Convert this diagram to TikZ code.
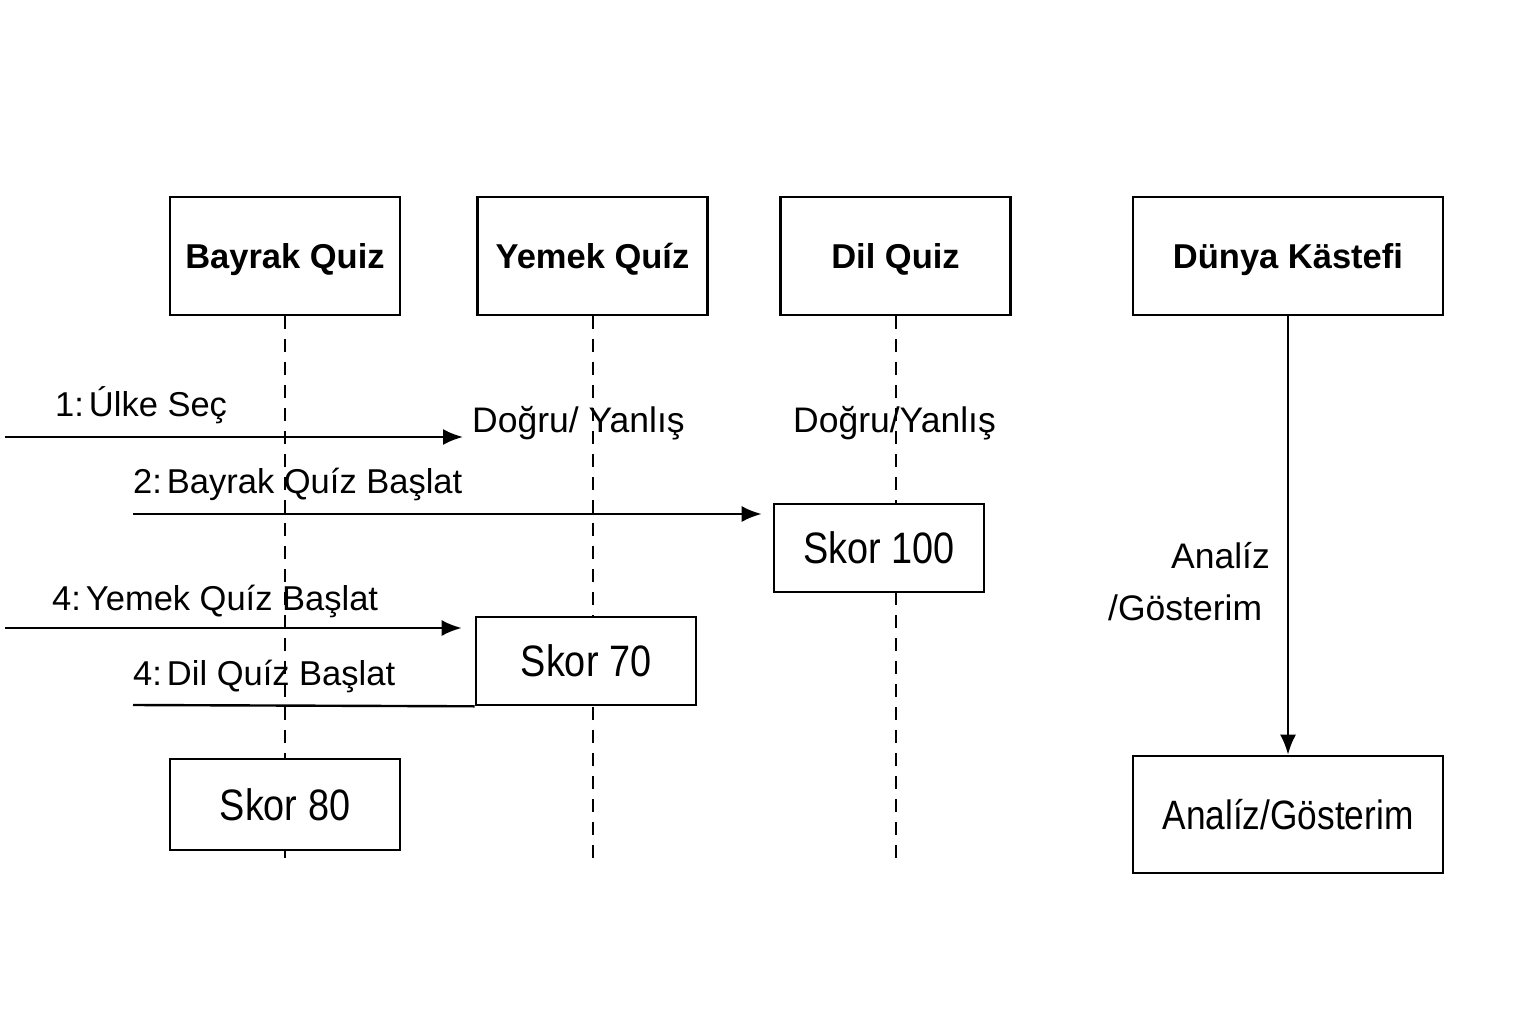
\documentclass[tikz,border=0pt]{standalone}
\usepackage{fontspec}
\setmainfont{Liberation Sans}
\newfontfamily\skorfont[FakeStretch=0.86]{Liberation Sans}
\usetikzlibrary{arrows.meta}
\newcommand{\cgap}{\hspace{5pt}}
\begin{document}
\begin{tikzpicture}[x=1pt,y=-1pt,
  hdr/.style={draw, line width=2.6pt, fill=white, minimum width=230pt, minimum height=118pt,
    inner sep=0pt, text height=25pt, text depth=0pt, font=\fontsize{34.5}{40}\selectfont\bfseries},
  skorbox/.style={draw, fill=white, line width=2.6pt, inner sep=0pt, text height=31.5pt, text depth=0pt,
    font=\skorfont\fontsize{44}{50}\selectfont},
  lbl/.style={inner sep=0pt, anchor=base west, font=\fontsize{34.5}{40}\selectfont},
  lblr/.style={inner sep=0pt, anchor=base east, font=\fontsize{35.5}{40}\selectfont},
  life/.style={line width=2pt, dash pattern=on 13pt off 10pt},
  msg/.style={line width=2.4pt, -{Latex[length=20pt,width=16pt]}},
  plain/.style={line width=2.4pt}]
\useasboundingbox (0,0) rectangle (1536,1024);

% lifeline end points
\coordinate (e1) at (285,862);
\coordinate (e2) at (592.5,862);
\coordinate (e3) at (895.5,862);

% headers
\node[hdr] (bq) at (285,256) {Bayrak Quiz};
\node[hdr] (yq) at (592.5,256) {Yemek Quíz};
\node[hdr] (dq) at (895.5,256) {Dil Quiz};
\node[hdr, minimum width=310pt] (dk) at (1288,256) {Dünya Kästefi};

% lifelines
\draw[life] (bq.south) -- (e1);
\draw[life] (yq.south) -- (e2);
\draw[life] (dq.south) -- (e3);

% score boxes
\node[skorbox, minimum width=210pt, minimum height=88pt] (s100) at (879,548) {Skor 100};
\node[skorbox, minimum width=220pt, minimum height=88pt] (s70) at (586,661) {Skor 70};
\node[skorbox, minimum width=230pt, minimum height=91pt] (s80) at (285,804.5) {Skor 80};
\node[skorbox, minimum width=310pt, minimum height=117pt, text height=29pt,
      font=\skorfont\fontsize{41}{46}\selectfont] (an) at (1288,814.5) {Analíz/Gösterim};

% labels
\node[lbl] (l1) at (55,416) {1:\cgap Úlke Seç};
\node[lbl, font=\fontsize{35.5}{40}\selectfont] (dy1) at (472,432) {Doğru/ Yanlış};
\node[lbl, font=\fontsize{35.5}{40}\selectfont] (dy2) at (793,432) {Doğru/Yanlış};
\node[lbl] (l2) at (133,493) {2:\cgap Bayrak Quíz Başlat};
\node[lbl] (l4a) at (52,610) {4:\cgap Yemek Quíz Başlat};
\node[lbl] (l4b) at (133,685) {4:\cgap Dil Quíz Başlat};
\node[lblr] (anl1) at (1270,568) {Analíz};
\node[lbl, font=\fontsize{35.5}{40}\selectfont] (anl2) at (1108,620) {/Gösterim};

% messages
\coordinate (a1) at (5,437);
\coordinate (a2) at (133,514);
\coordinate (a4) at (5,628);
\coordinate (a5) at (133,705);
\draw[msg, shorten >=9pt] (a1) -- (a1 -| dy1.west);
\draw[msg, shorten >=11pt] (a2) -- (a2 -| s100.west);
\draw[msg, shorten >=13pt] (a4) -- (a4 -| s70.west);
\draw[plain] (a5) -- (s70.south west);
\draw[msg] (dk.south) -- (an.north);
\end{tikzpicture}
\end{document}
